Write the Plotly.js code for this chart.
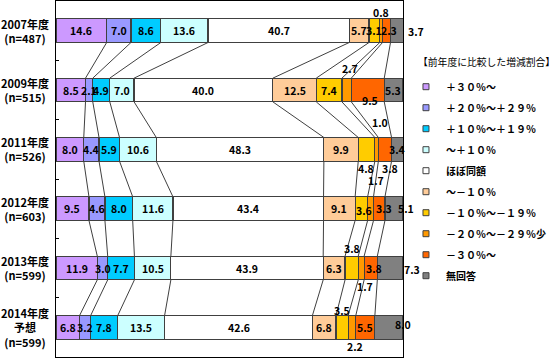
<!DOCTYPE html>
<html><head><meta charset="utf-8">
<script src="https://cdn.plot.ly/plotly-3.0.1.min.js"></script>
<style>html,body{margin:0;padding:0;background:#fff}#chart{width:554px;height:358px}</style>
</head><body><div id="chart"></div>
<script>
// ---- data ----
const categories = ['2007年度<br>(n=487)','2009年度<br>(n=515)','2011年度<br>(n=526)','2012年度<br>(n=603)','2013年度<br>(n=599)','2014年度<br>予想<br>(n=599)'];
const seriesNames = ['＋３０％～','＋２０％～＋２９％','＋１０％～＋１９％','～＋１０％','ほぼ同額','～－１０％','－１０％～－１９％','－２０％～－２９％少','－３０％～','無回答'];
const legendTitle = '【前年度に比較した増減割合】';
const up30     = [14.6, 8.5, 8.0, 9.5, 11.9, 6.8];
const up20     = [7.0, 2.1, 4.4, 4.6, 3.0, 3.2];
const up10     = [8.6, 4.9, 5.9, 8.0, 7.7, 7.8];
const up0      = [13.6, 7.0, 10.6, 11.6, 10.5, 13.5];
const same     = [40.7, 40.0, 48.3, 43.4, 43.9, 42.6];
const down0    = [5.7, 12.5, 9.9, 9.1, 6.3, 6.8];
const down10   = [3.1, 7.4, 4.8, 3.6, 3.8, 3.5];
const down20   = [0.8, 2.7, 1.0, 1.7, 1.7, 2.2];
const down30   = [2.3, 9.5, 3.8, 3.3, 3.8, 5.5];
const noAnswer = [3.7, 5.3, 3.4, 5.1, 7.3, 8.0];

// ---- styles ----
const series = [up30, up20, up10, up0, same, down0, down10, down20, down30, noAnswer];
const colors = ['#CC99FF','#9999FF','#00CCFF','#CCFFFF','#FFFFFF','#FFCC99','#FFCC00','#FF9900','#FF6600','#808080'];
const barWidth = 0.4;
const edge = '#404040';
const FONT = '"Noto Sans CJK JP", "Noto Sans", sans-serif';
// label offsets in px [dx, dy(up)] keyed "row,series"
const labelShift = {
  '0,7':[0,18], '0,8':[2,0], '0,9':[19,-1],
  '1,7':[3,22], '1,8':[2,-10],
  '2,6':[-1,-19], '2,7':[3,27], '2,8':[5,-19],
  '3,6':[3,-2], '3,7':[5,28], '3,8':[5,0], '3,9':[12,0],
  '4,6':[0,20], '4,7':[4,-18], '4,8':[3,0], '4,9':[22,-1],
  '5,6':[0,17], '5,7':[3,-19], '5,9':[14,3]
};

const rows = categories.map((c,i)=>i);
const traces = [];
series.forEach((vals, s) => {
  traces.push({
    type:'bar', orientation:'h', x: vals, y: rows, width: barWidth,
    marker:{color: colors[s], line:{color: edge, width:1.2}},
    showlegend:false, hoverinfo:'skip', name: seriesNames[s]
  });
});

// cumulative boundaries
const cum = rows.map(r => {
  const a = [0];
  series.forEach(v => a.push(a[a.length-1] + v[r]));
  return a;
});

// connector lines between consecutive bars
const lx = [], ly = [];
for (let r = 0; r < rows.length - 1; r++) {
  for (let k = 1; k < series.length; k++) {
    lx.push(cum[r][k], cum[r+1][k], null);
    ly.push(r + barWidth/2, r + 1 - barWidth/2, null);
  }
}
traces.push({type:'scatter', mode:'lines', x: lx, y: ly, line:{color: edge, width:1},
  showlegend:false, hoverinfo:'skip'});

// legend entries
series.forEach((vals, s) => {
  traces.push({type:'scatter', mode:'markers', x:[null], y:[null], name: seriesNames[s],
    legendgroup: 'g'+s,
    marker:{symbol:'square', size:6, color: colors[s], line:{color: edge, width:1}}});
});

// value labels
const annotations = [];
rows.forEach(r => {
  series.forEach((vals, s) => {
    const sh = labelShift[r+','+s] || [0,0];
    annotations.push({x: (cum[r][s] + cum[r][s+1]) / 2, y: r, xref:'x', yref:'y',
      text: vals[r].toFixed(1), showarrow:false, xshift: sh[0], yshift: sh[1],
      font:{family: FONT, size:10.5, color:'#000', weight:'bold'}});
  });
  annotations.push({x: -0.089, y: r, xref:'paper', yref:'y', text: categories[r],
    showarrow:false, xanchor:'center', align:'center',
    font:{family: FONT, size:11, color:'#000', weight:'bold'}});
});
annotations.push({x: 1.0375, y: 0.829, xref:'paper', yref:'paper', text: legendTitle,
  showarrow:false, xanchor:'left', yanchor:'middle',
  font:{family: FONT, size:9.8, color:'#000'}});

const layout = {
  width:554, height:358,
  margin:{l:56, r:151, t:1, b:1, pad:0, autoexpand:false},
  barmode:'stack',
  paper_bgcolor:'#fff', plot_bgcolor:'#fff',
  xaxis:{range:[0,100], showticklabels:false, showgrid:false, zeroline:false,
    showline:true, linecolor:'#000', linewidth:1, mirror:true, ticks:''},
  yaxis:{range:[5.5,-0.5], tickvals:[0.5,1.5,2.5,3.5,4.5], ticks:'inside', ticklen:3,
    tickcolor:'#000', showticklabels:false, showgrid:false, zeroline:false,
    showline:true, linecolor:'#000', linewidth:1, mirror:true},
  showlegend:true,
  legend:{x:1.0086, xanchor:'left', y:0.80, yanchor:'top', traceorder:'grouped', tracegroupgap:2,
    bgcolor:'rgba(0,0,0,0)', borderwidth:0,
    font:{family: FONT, size:10, color:'#000', weight:'bold'}},
  annotations: annotations
};

Plotly.newPlot('chart', traces, layout, {displayModeBar:false, staticPlot:true});
</script>
</body></html>
